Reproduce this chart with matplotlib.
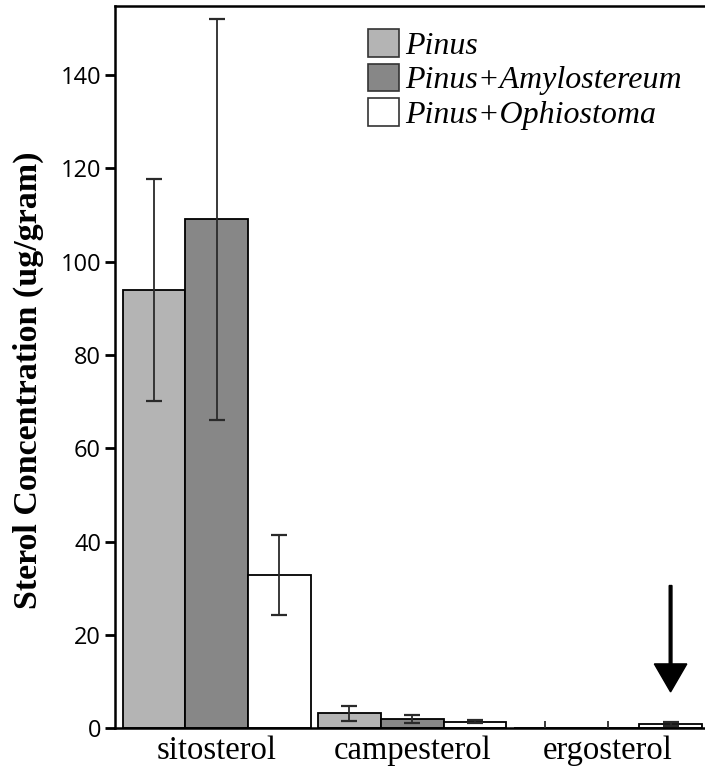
import matplotlib
matplotlib.use("Agg")
import matplotlib.pyplot as plt
from matplotlib.patches import Patch
import numpy as np

sterols = ["sitosterol", "campesterol", "ergosterol"]
series = ["Pinus", "Pinus+Amylostereum", "Pinus+Ophiostoma"]
colors = ["#b4b4b4", "#878787", "#ffffff"]

# mean concentration (ug/gram) and error, one list per treatment
pinus = [94.0, 3.2, 0.0]
pinus_err = [23.8, 1.6, 1.6]
amylo = [109.1, 2.0, 0.0]
amylo_err = [43.0, 0.8, 1.6]
ophio = [32.8, 1.4, 1.0]
ophio_err = [8.6, 0.3, 0.4]

y_ticks = [0, 20, 40, 60, 80, 100, 120, 140]

means = [pinus, amylo, ophio]
errs = [pinus_err, amylo_err, ophio_err]

fig = plt.figure(figsize=(7.05, 7.72), dpi=100)
ax = fig.add_axes([115 / 705, 43.7 / 772, 590 / 705, 722.3 / 772])

width = 0.321
x = np.arange(len(sterols))

for k in range(3):
    pos = x + (k - 1) * width
    m = np.array(means[k])
    e = np.array(errs[k])
    ax.bar(pos, m, width=width, color=colors[k], edgecolor="black",
           linewidth=1.3, zorder=2)
    has = m > 0
    ax.errorbar(pos[has], m[has], yerr=e[has], fmt="none", ecolor="#2a2a2a",
                elinewidth=1.3, capsize=5.5, capthick=1.6, zorder=3)
    if (~has).any():
        ax.errorbar(pos[~has], m[~has], yerr=e[~has], fmt="none",
                    ecolor="#2a2a2a", elinewidth=1.3, capsize=0, zorder=3)

# arrow pointing at the ergosterol bar of Pinus+Ophiostoma
ax.arrow(x[2] + width, 30.6, 0, -22.8, width=0.014, head_width=0.166,
         head_length=6.0, length_includes_head=True, color="black", zorder=4)

ax.set_xlim(-0.52, 2.497)
ax.set_ylim(0, 154.8)
ax.set_xticks(x)
ax.set_xticklabels(sterols, family="Liberation Serif", fontsize=23.5)
ax.tick_params(axis="x", length=0, pad=5)
ax.set_yticks(y_ticks)
ax.set_yticklabels([str(t) for t in y_ticks], family="Open Sans", fontsize=17)
ax.tick_params(axis="y", length=7, width=2, pad=3, direction="out")

ax.spines["right"].set_visible(False)
for s in ["left", "bottom", "top"]:
    ax.spines[s].set_linewidth(1.8)

ax.set_ylabel("Sterol Concentration (ug/gram)", family="Liberation Serif",
              fontweight="bold", fontsize=24.5)
ax.yaxis.label.set_va("center")
ax.yaxis.set_label_coords(-0.147, 0.482)

handles = [Patch(facecolor=c, edgecolor="#333333", linewidth=1.2) for c in colors]
ax.legend(handles, series, loc="upper left",
          bbox_to_anchor=(368 / 705, 1 - 29 / 772), bbox_transform=fig.transFigure,
          frameon=False, borderpad=0, borderaxespad=0, labelspacing=0.08,
          handlelength=0.97, handleheight=0.97, handletextpad=0.18,
          prop={"family": "Liberation Serif", "style": "italic", "size": 23})

fig.savefig("out.png", dpi=100)
